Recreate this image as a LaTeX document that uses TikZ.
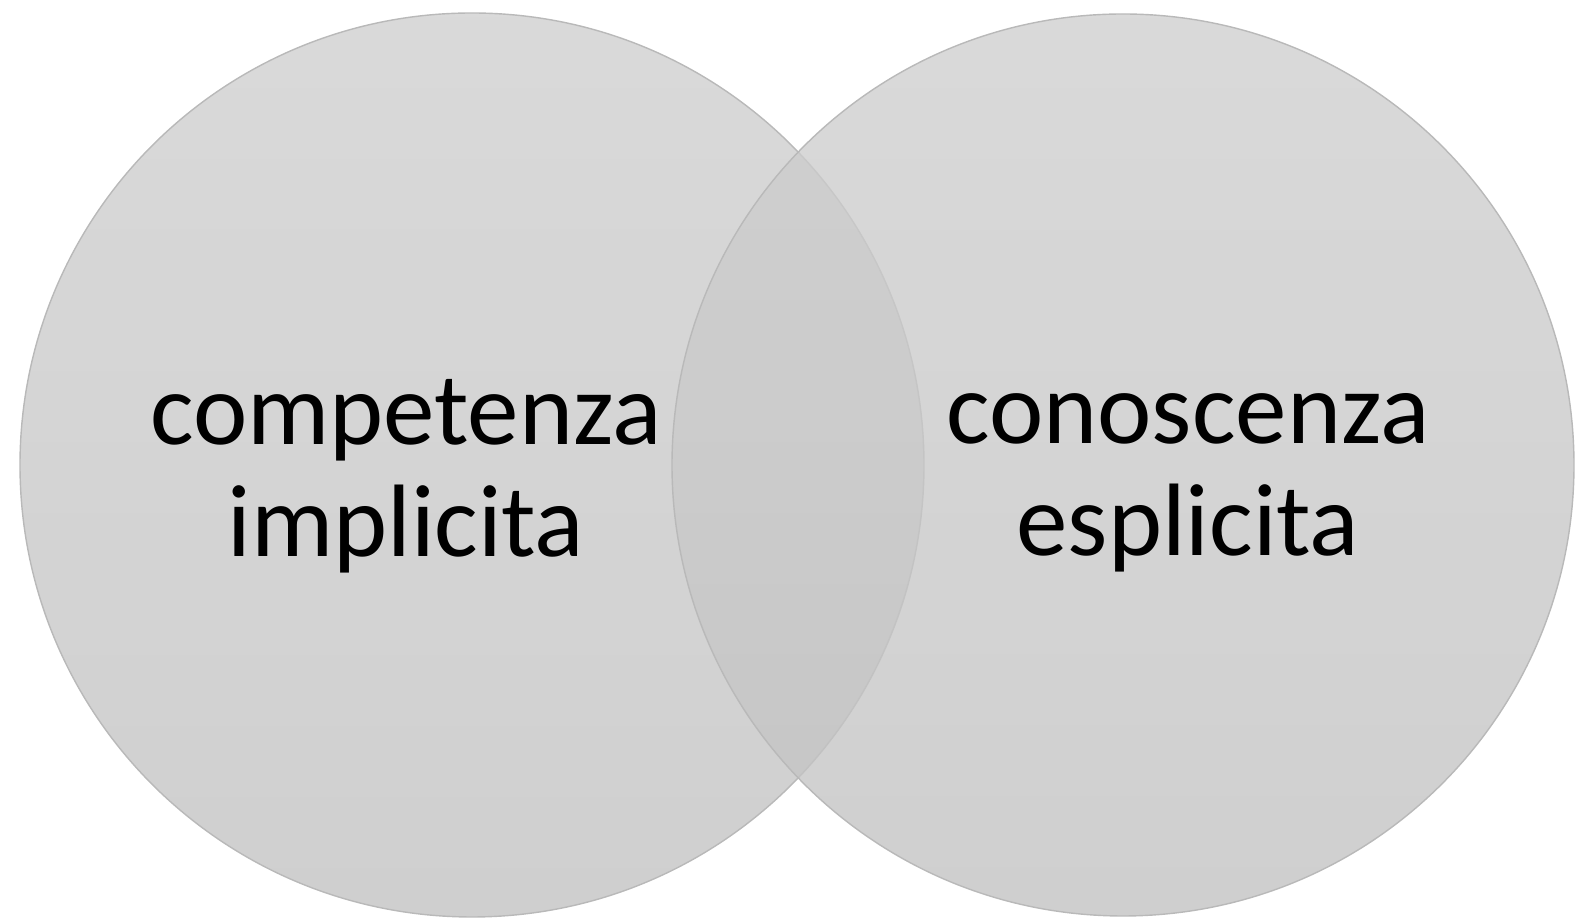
\documentclass[tikz,border=0pt]{standalone}
\usepackage{fontspec}
\setmainfont{Carlito}
\usepackage{tikz}
\usetikzlibrary{shapes}
\definecolor{venntop}{gray}{0.81}
\definecolor{vennbot}{gray}{0.76}
\tikzstyle{venn} = [circle, draw=gray!55, line width=0.4pt, top color=venntop, bottom color=vennbot, fill opacity=0.78, inner sep=0pt]
\tikzstyle{label} = [align=center, text=black, font=\fontsize{29.3pt}{32pt}\selectfont]

\begin{document}
\begin{tikzpicture}
            \useasboundingbox (0,0) rectangle (15.75,9.24);

            \node[venn, minimum size=9.04cm] (implicita) at (4.72, 4.59) {};
            \node[venn, minimum size=9.02cm] (esplicita) at (11.23, 4.59) {};

            \node[label] (competenza) at (4.06, 4.48) {competenza\\implicita};
            \node[label] (conoscenza) at (11.88, 4.41) {conoscenza\\esplicita};
          \end{tikzpicture}
\end{document}
